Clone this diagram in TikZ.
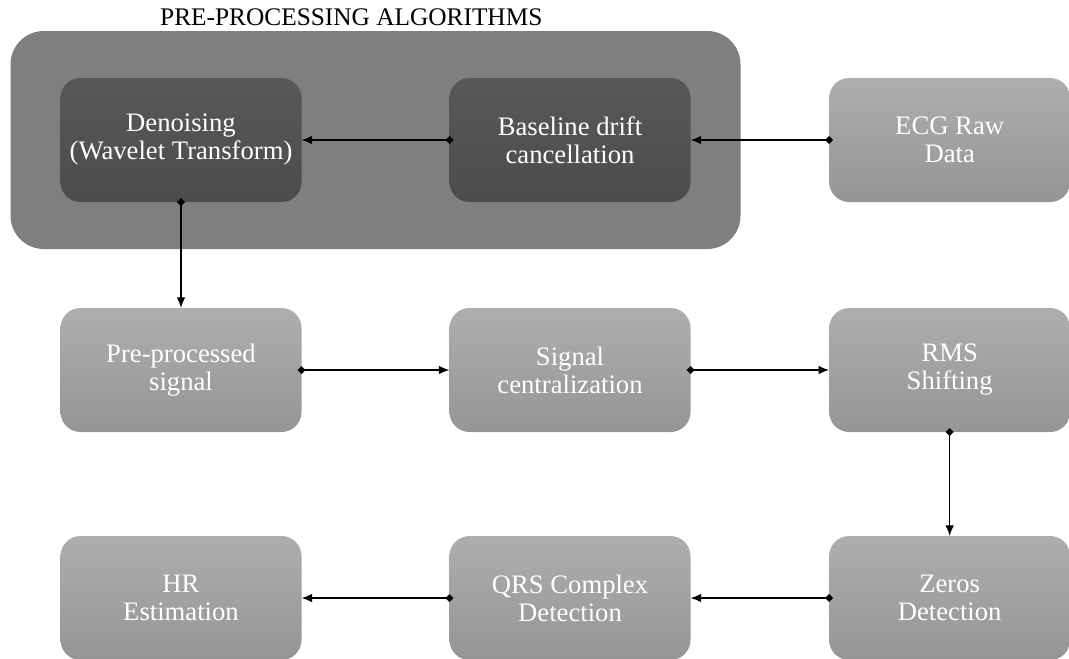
\documentclass[tikz,border=0pt]{standalone}
\usepackage{fontspec}
\setmainfont{Liberation Serif}
\usepackage{tikz}
\usetikzlibrary{arrows.meta}
\usetikzlibrary{positioning, fit, backgrounds}
\definecolor{boxtop}{HTML}{AEAEAE}
\definecolor{boxbot}{HTML}{959595}
\definecolor{darktop}{HTML}{585858}
\definecolor{darkbot}{HTML}{4C4C4C}
\definecolor{plate}{HTML}{7F7F7F}
\tikzstyle{box}=[rectangle, rounded corners=15pt, minimum width=180.75pt, minimum height=93pt, inner sep=2pt, outer sep=0pt, align=center, text=white, font=\fontsize{20pt}{21pt}\selectfont, top color=boxtop, bottom color=boxbot]
\tikzstyle{darkbox}=[box, top color=darktop, bottom color=darkbot]

\begin{document}
\begin{tikzpicture}[x=0.75pt, y=-0.75pt]
\tikzset{every node/.style={font=\fontsize{19pt}{21pt}\selectfont}}

%  all lines
\tikzset{every path/.style={line width=1.2pt}}
\tikzset{flow/.style={{Diamond[length=6pt, width=6pt]}-{Latex[length=8pt, width=6.5pt]}, shorten <=-3pt}}

\useasboundingbox (0,0) rectangle (1069,658);

% first row
\node[darkbox] (den) at (181,140) {Denoising\\(Wavelet Transform)};
\node[darkbox, right=111pt of den] (base) {Baseline drift\\cancellation};
\node[box, right=104pt of base] (ecg) {ECG Raw\\Data};

% second row
\node[box, below=79.5pt of den] (pre) {Pre-processed\\signal};
\node[box, below=79.5pt of base] (cent) {Signal\\centralization};
\node[box, below=79.5pt of ecg] (rms) {RMS\\Shifting};

% third row
\node[box, below=78pt of pre] (hr) {HR\\Estimation};
\node[box, below=78pt of cent] (qrs) {QRS Complex\\Detection};
\node[box, below=78pt of rms] (zero) {Zeros\\Detection};

% plate behind the first two stages
\begin{scope}[on background layer]
\node[fill=plate, rounded corners=25pt, fit=(den) (base), inner xsep=37.5pt, inner ysep=35.25pt] (plate) {};
\end{scope}
\node[anchor=base west] (title) at (155,25) {PRE-PROCESSING ALGORITHMS};

\draw[flow] (ecg) -- (base);
\draw[flow] (base) -- (den);
\draw[flow] (den) -- (pre);
\draw[flow] (pre) -- (cent);
\draw[flow] (cent) -- (rms);
\draw[flow] (rms) -- (zero);
\draw[flow] (zero) -- (qrs);
\draw[flow] (qrs) -- (hr);

\end{tikzpicture}
\end{document}
